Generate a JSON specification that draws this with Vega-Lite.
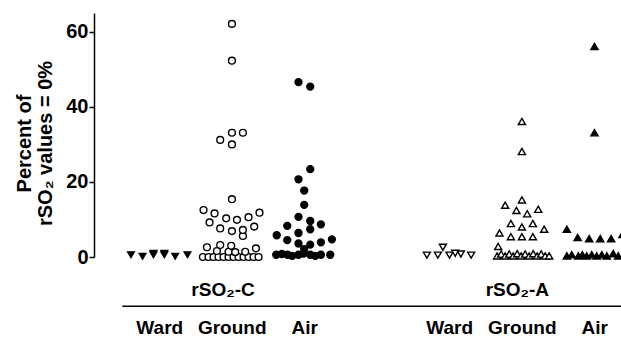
{
  "$schema": "https://vega.github.io/schema/vega-lite/v6.json",
  "width": 527,
  "height": 244,
  "autosize": {"type": "none"},
  "padding": {"left": 94, "top": 13, "right": 0, "bottom": 82},
  "config": {"view": {"stroke": null}, "font": "Liberation Sans"},
  "datasets": {
    "pts": [
      {"g": "WC", "x": 0.61, "y": 0.6}, {"g": "WC", "x": 0.77, "y": 0.2}, {"g": "WC", "x": 0.92, "y": 0.6}, {"g": "WC", "x": 0.92, "y": 1.0},
      {"g": "WC", "x": 1.07, "y": 0.6}, {"g": "WC", "x": 1.07, "y": 1.0}, {"g": "WC", "x": 1.22, "y": 0.2}, {"g": "WC", "x": 1.39, "y": 0.6},

      {"g": "GC", "x": 1.603, "y": 0}, {"g": "GC", "x": 1.68, "y": 0}, {"g": "GC", "x": 1.749, "y": 0}, {"g": "GC", "x": 1.818, "y": 0},
      {"g": "GC", "x": 1.887, "y": 0}, {"g": "GC", "x": 1.956, "y": 0}, {"g": "GC", "x": 2.025, "y": 0}, {"g": "GC", "x": 2.094, "y": 0},
      {"g": "GC", "x": 2.163, "y": 0}, {"g": "GC", "x": 2.232, "y": 0}, {"g": "GC", "x": 2.301, "y": 0}, {"g": "GC", "x": 2.37, "y": 0},
      {"g": "GC", "x": 1.796, "y": 1.6}, {"g": "GC", "x": 1.956, "y": 1.4}, {"g": "GC", "x": 2.048, "y": 1.3}, {"g": "GC", "x": 2.186, "y": 1.4},
      {"g": "GC", "x": 1.658, "y": 2.6}, {"g": "GC", "x": 1.841, "y": 3.2}, {"g": "GC", "x": 1.993, "y": 3.0}, {"g": "GC", "x": 2.334, "y": 2.3},
      {"g": "GC", "x": 2.154, "y": 5.6}, {"g": "GC", "x": 2.003, "y": 6.9}, {"g": "GC", "x": 2.154, "y": 7.2}, {"g": "GC", "x": 1.841, "y": 7.6},
      {"g": "GC", "x": 2.31, "y": 8.1}, {"g": "GC", "x": 1.694, "y": 9.2}, {"g": "GC", "x": 2.072, "y": 9.9}, {"g": "GC", "x": 1.924, "y": 10.3},
      {"g": "GC", "x": 2.232, "y": 10.6}, {"g": "GC", "x": 1.763, "y": 11.6}, {"g": "GC", "x": 2.383, "y": 11.8}, {"g": "GC", "x": 1.611, "y": 12.5},
      {"g": "GC", "x": 2.003, "y": 15.4}, {"g": "GC", "x": 2.003, "y": 30.0}, {"g": "GC", "x": 1.841, "y": 31.2}, {"g": "GC", "x": 2.003, "y": 33.1},
      {"g": "GC", "x": 2.154, "y": 33.1}, {"g": "GC", "x": 2.003, "y": 52.3}, {"g": "GC", "x": 2.003, "y": 62.1},

      {"g": "AC", "x": 2.614, "y": 0.6}, {"g": "AC", "x": 2.692, "y": 0.8}, {"g": "AC", "x": 2.77, "y": 0.6}, {"g": "AC", "x": 2.834, "y": 0.3},
      {"g": "AC", "x": 2.921, "y": 0.6}, {"g": "AC", "x": 2.99, "y": 0.9}, {"g": "AC", "x": 3.083, "y": 0.6}, {"g": "AC", "x": 3.152, "y": 0.3},
      {"g": "AC", "x": 3.23, "y": 0.6}, {"g": "AC", "x": 3.359, "y": 0.6}, {"g": "AC", "x": 3.0, "y": 2.1}, {"g": "AC", "x": 3.083, "y": 3.3},
      {"g": "AC", "x": 2.921, "y": 3.6}, {"g": "AC", "x": 3.23, "y": 3.9}, {"g": "AC", "x": 2.766, "y": 4.5}, {"g": "AC", "x": 3.382, "y": 4.7},
      {"g": "AC", "x": 2.621, "y": 5.8}, {"g": "AC", "x": 2.921, "y": 6.4}, {"g": "AC", "x": 3.083, "y": 7.4}, {"g": "AC", "x": 2.766, "y": 8.3},
      {"g": "AC", "x": 3.23, "y": 8.7}, {"g": "AC", "x": 3.083, "y": 9.6}, {"g": "AC", "x": 2.921, "y": 10.7}, {"g": "AC", "x": 3.0, "y": 13.9},
      {"g": "AC", "x": 3.0, "y": 17.7}, {"g": "AC", "x": 2.921, "y": 20.7}, {"g": "AC", "x": 3.083, "y": 23.4}, {"g": "AC", "x": 3.083, "y": 45.4},
      {"g": "AC", "x": 2.921, "y": 46.6},

      {"g": "WA", "x": 4.692, "y": 0.5}, {"g": "WA", "x": 4.844, "y": 0.5}, {"g": "WA", "x": 4.913, "y": 2.6}, {"g": "WA", "x": 5.004, "y": 0.5},
      {"g": "WA", "x": 5.083, "y": 1.0}, {"g": "WA", "x": 5.161, "y": 0.8}, {"g": "WA", "x": 5.303, "y": 0.5},

      {"g": "GA", "x": 5.662, "y": 0.3}, {"g": "GA", "x": 5.717, "y": 0.8}, {"g": "GA", "x": 5.772, "y": 0.3}, {"g": "GA", "x": 5.828, "y": 0.8},
      {"g": "GA", "x": 5.883, "y": 0.3}, {"g": "GA", "x": 5.938, "y": 0.9}, {"g": "GA", "x": 5.993, "y": 0.3}, {"g": "GA", "x": 6.048, "y": 0.8},
      {"g": "GA", "x": 6.103, "y": 0.3}, {"g": "GA", "x": 6.159, "y": 0.9}, {"g": "GA", "x": 6.214, "y": 0.3}, {"g": "GA", "x": 6.269, "y": 0.8},
      {"g": "GA", "x": 6.324, "y": 0.3}, {"g": "GA", "x": 6.379, "y": 0.3},
      {"g": "GA", "x": 5.676, "y": 2.8}, {"g": "GA", "x": 5.851, "y": 5.4}, {"g": "GA", "x": 6.003, "y": 5.4}, {"g": "GA", "x": 6.154, "y": 5.4},
      {"g": "GA", "x": 5.694, "y": 6.4}, {"g": "GA", "x": 6.31, "y": 7.4}, {"g": "GA", "x": 6.003, "y": 8.0}, {"g": "GA", "x": 5.851, "y": 8.9},
      {"g": "GA", "x": 6.154, "y": 8.9}, {"g": "GA", "x": 6.076, "y": 11.5}, {"g": "GA", "x": 5.928, "y": 12.4}, {"g": "GA", "x": 6.228, "y": 12.7},
      {"g": "GA", "x": 5.772, "y": 13.8}, {"g": "GA", "x": 6.003, "y": 15.2}, {"g": "GA", "x": 6.003, "y": 28.1}, {"g": "GA", "x": 6.003, "y": 36.1},

      {"g": "AA", "x": 6.623, "y": 0.3}, {"g": "AA", "x": 6.69, "y": 0.6}, {"g": "AA", "x": 6.781, "y": 0.3}, {"g": "AA", "x": 6.837, "y": 0.6},
      {"g": "AA", "x": 6.897, "y": 0.3}, {"g": "AA", "x": 6.966, "y": 0.6}, {"g": "AA", "x": 7.034, "y": 0.3}, {"g": "AA", "x": 7.106, "y": 0.6},
      {"g": "AA", "x": 7.174, "y": 0.3}, {"g": "AA", "x": 7.262, "y": 0.9}, {"g": "AA", "x": 7.331, "y": 0.3},
      {"g": "AA", "x": 6.623, "y": 7.4}, {"g": "AA", "x": 6.772, "y": 5.2}, {"g": "AA", "x": 6.931, "y": 4.9}, {"g": "AA", "x": 7.083, "y": 4.9},
      {"g": "AA", "x": 7.234, "y": 4.9}, {"g": "AA", "x": 7.39, "y": 6.0}, {"g": "AA", "x": 7.004, "y": 33.1}, {"g": "AA", "x": 7.004, "y": 56.1}
    ],
    "groups": [
      {"x": 1.88, "y": -8.8, "t": "rSO₂-C"},
      {"x": 5.94, "y": -8.8, "t": "rSO₂-A"}
    ],
    "line": [
      {"x": 0.49, "x2": 7.37, "y": -13.1}
    ]
  },
  "layer": [
    {
      "data": {"name": "pts"},
      "mark": {"type": "point", "filled": true, "stroke": "black", "strokeWidth": 1.4, "opacity": 1},
      "encoding": {
        "x": {
          "field": "x", "type": "quantitative",
          "scale": {"domain": [0.1, 7.37], "nice": false, "zero": false},
          "axis": {
            "values": [1, 2, 3, 5, 6, 7],
            "labelExpr": "datum.value == 1 || datum.value == 5 ? 'Ward' : (datum.value == 2 || datum.value == 6 ? 'Ground' : 'Air')",
            "domain": false, "ticks": false, "grid": false,
            "labelPadding": 61, "labelFontSize": 19, "labelFontWeight": "bold", "labelColor": "black",
            "labelBaseline": "top", "labelFlush": false, "labelOverlap": false,
            "title": null
          }
        },
        "y": {
          "field": "y", "type": "quantitative",
          "scale": {"domain": [0, 65], "nice": false},
          "axis": {
            "values": [0, 20, 40, 60],
            "grid": false,
            "domainColor": "black", "domainWidth": 1.5,
            "tickColor": "black", "tickWidth": 1.5, "tickSize": 5,
            "labelFontSize": 20, "labelFontWeight": "bold", "labelColor": "black", "labelPadding": 1,
            "title": ["Percent of", "rSO₂ values = 0%"],
            "titleFontSize": 20, "titleFontWeight": "bold", "titleColor": "black",
            "titleLineHeight": 21, "titlePadding": 10, "titleY": 130
          }
        },
        "shape": {
          "field": "g", "type": "nominal",
          "scale": {"domain": ["WC", "GC", "AC", "WA", "GA", "AA"], "range": ["triangle-down", "circle", "circle", "triangle-down", "triangle-up", "triangle-up"]},
          "legend": null
        },
        "fill": {
          "field": "g", "type": "nominal",
          "scale": {"domain": ["WC", "GC", "AC", "WA", "GA", "AA"], "range": ["black", "white", "black", "white", "white", "black"]},
          "legend": null
        },
        "size": {
          "field": "g", "type": "ordinal",
          "scale": {"domain": ["WC", "GC", "AC", "WA", "GA", "AA"], "range": [45, 52, 68, 60, 70, 70]},
          "legend": null
        }
      }
    },
    {
      "data": {"name": "groups"},
      "mark": {"type": "text", "fontSize": 19, "fontWeight": "bold", "color": "black", "baseline": "middle", "align": "center"},
      "encoding": {
        "x": {"field": "x", "type": "quantitative"},
        "y": {"field": "y", "type": "quantitative"},
        "text": {"field": "t"}
      }
    },
    {
      "data": {"name": "line"},
      "mark": {"type": "rule", "color": "black", "strokeWidth": 1.5},
      "encoding": {
        "x": {"field": "x", "type": "quantitative"},
        "x2": {"field": "x2"},
        "y": {"field": "y", "type": "quantitative"}
      }
    }
  ]
}
